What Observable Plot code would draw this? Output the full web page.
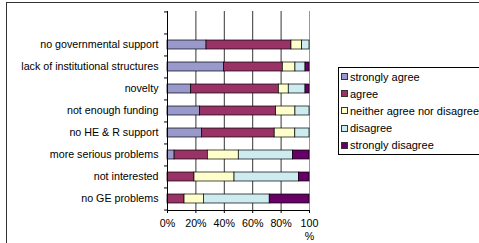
<!DOCTYPE html>
<html><head><meta charset="utf-8">
<script src="https://cdn.jsdelivr.net/npm/d3@7"></script>
<script src="https://cdn.jsdelivr.net/npm/@observablehq/plot@0.6"></script>
<style>
html,body{margin:0;padding:0;width:479px;height:243px;overflow:hidden;background:#fff;font-family:"Liberation Sans",Arial,sans-serif;}
#wrap{position:relative;width:479px;height:243px;overflow:hidden;}
#wrap svg{position:absolute;left:0;top:0;background:transparent;}
#border{position:absolute;left:6px;top:2px;width:520px;height:300px;border-left:1.5px solid #333;border-top:1.5px solid #333;}
#legend{position:absolute;left:338px;top:67px;width:142px;height:88px;border:1px solid #000;box-sizing:border-box;font-size:11px;color:#000;background:#fff;}
.item{height:17.2px;display:flex;align-items:center;white-space:nowrap;}
.sw{width:5px;height:5px;border:1px solid #333;margin-left:2px;margin-right:2px;flex:none;}
</style>
</head><body>
<div id="wrap"><div id="border"></div></div>
<script>
const categories = ["no governmental support","lack of institutional structures","novelty","not enough funding","no HE & R support","more serious problems","not interested","no GE problems"];
const responses = ["strongly agree","agree","neither agree nor disagree","disagree","strongly disagree"];
const colors = ["#9999CC","#993366","#FFFFCC","#CCECF0","#660066"];
const stronglyAgree    = [27.5, 39.7, 16.7, 22.8, 24.2,  5.0,  0.0,  0.0];
const agree            = [59.8, 41.5, 61.7, 53.7, 51.3, 23.4, 19.0, 12.0];
const neither          = [ 7.5,  8.9,  7.0, 13.6, 14.5, 21.8, 28.2, 13.6];
const disagree         = [ 5.2,  7.1, 11.8,  9.9, 10.0, 38.1, 45.3, 46.4];
const stronglyDisagree = [ 0.0,  2.8,  2.8,  0.0,  0.0, 11.7,  7.5, 28.0];
const xTicks = [0, 20, 40, 60, 80, 100];

const series = [stronglyAgree, agree, neither, disagree, stronglyDisagree];
const rows = [];
categories.forEach((c, i) => {
  series.forEach((s, j) => {
    if (s[i] > 0) rows.push({category: c, response: responses[j], value: s[i]});
  });
});

const H = 243, mT = 11, mB = 33;
const step = (H - mT - mB) / (categories.length + 1);
const yDomain = ["", ...categories];

const chart = Plot.plot({
  width: 479, height: H,
  marginLeft: 167, marginRight: 170, marginTop: mT, marginBottom: mB,
  style: {fontFamily: '"Liberation Sans", Arial, sans-serif', fontSize: "10.7px", color: "#000", background: "transparent", overflow: "visible"},
  x: {domain: [0, 100]},
  y: {domain: yDomain, paddingInner: 0.6, paddingOuter: 0.3},
  color: {domain: responses, range: colors},
  marks: [
    Plot.ruleX(xTicks.slice(1, -1), {stroke: "#000", strokeWidth: 0.8}),
    Plot.ruleX([100], {stroke: "#999", strokeWidth: 1}),
    Plot.barX(rows, {x: "value", y: "category", fill: "response", stroke: "#000", strokeWidth: 0.7}),
    Plot.ruleX([0], {stroke: "#000", strokeWidth: 1}),
    Plot.frame({anchor: "bottom", stroke: "#000"}),
    Plot.axisY({ticks: categories, tickSize: 0, tickPadding: 9, label: null}),
    Plot.axisY({ticks: yDomain, tickSize: 3, tickFormat: () => "", dy: -step / 2, label: null}),
    Plot.axisY({ticks: [categories[categories.length - 1]], tickSize: 3, tickFormat: () => "", dy: step / 2, label: null}),
    Plot.axisX({ticks: xTicks, tickSize: 3, tickPadding: 4, label: null, lineHeight: 1.25,
      tickFormat: d => d === 100 ? "100\n%" : d + "%"})
  ]
});
const wrap = document.getElementById("wrap");
wrap.insertBefore(chart, wrap.firstChild);

const legend = document.createElement("div");
legend.id = "legend";
responses.forEach((r, i) => {
  const it = document.createElement("div");
  it.className = "item";
  const sw = document.createElement("span");
  sw.className = "sw";
  sw.style.background = colors[i];
  const t = document.createElement("span");
  t.textContent = r;
  it.appendChild(sw); it.appendChild(t);
  legend.appendChild(it);
});
wrap.appendChild(legend);
</script>
</body></html>
